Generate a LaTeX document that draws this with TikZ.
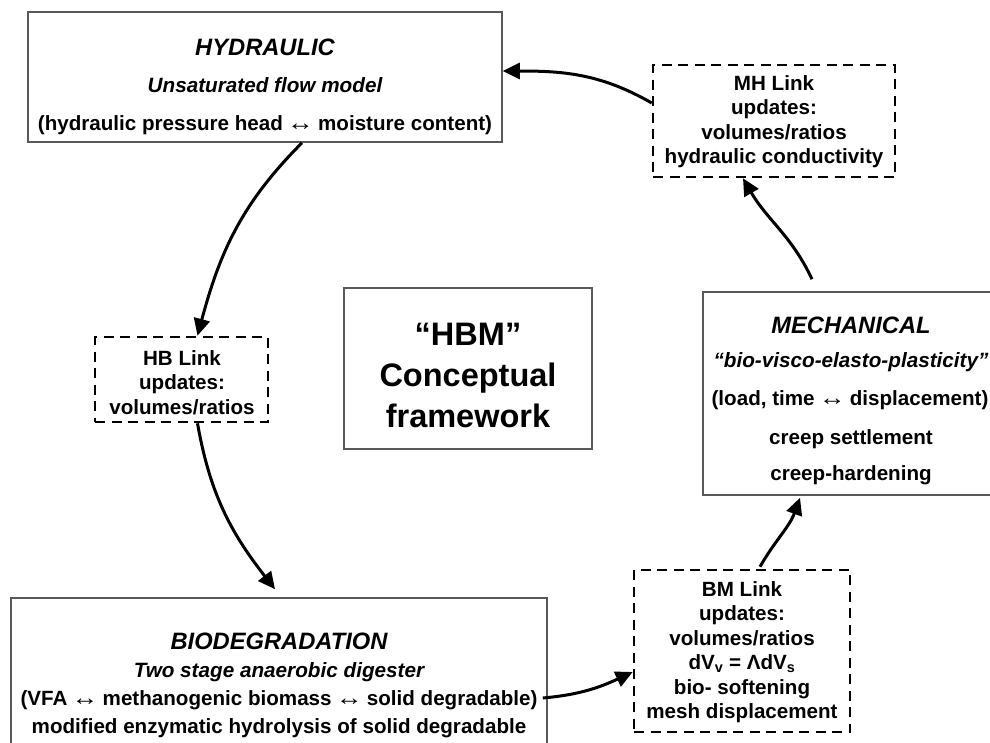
\documentclass[tikz,border=0pt]{standalone}
\usepackage{fontspec}
\usepackage{graphicx}
\setmainfont{Liberation Sans}
\newcommand{\lrarr}{\kern-1.5pt\scalebox{1.3}[1.1]{↔}\kern-1.5pt}
\usetikzlibrary{arrows.meta}
\begin{document}
\begin{tikzpicture}[x=1pt,y=-1pt,
  solidbox/.style={draw=black!65, line width=1.6pt, fill=white, inner sep=0pt},
  dashbox/.style={draw=black, line width=2.6pt, dash pattern=on 10pt off 6.5pt, fill=white, inner sep=0pt},
  body/.style={font=\fontsize{20.6}{24}\selectfont\bfseries, anchor=base, inner sep=0pt},
  ttl/.style={font=\fontsize{23.7}{26}\selectfont\bfseries\itshape, anchor=base, inner sep=0pt},
  sub/.style={font=\fontsize{20.7}{24}\selectfont\bfseries\itshape, anchor=base, inner sep=0pt},
  big/.style={font=\fontsize{32.5}{36}\selectfont\bfseries, anchor=base, inner sep=0pt},
  conn/.style={line width=3pt, -{Triangle[length=17pt,width=16pt]}},
]
\useasboundingbox (0,0) rectangle (990,742);
\fill[white] (0,0) rectangle (990,742);

% boxes
\node[solidbox, minimum width=474pt, minimum height=130pt] (hyd) at (265,77) {};
\node[dashbox, minimum width=242pt, minimum height=112pt] (mh) at (774,121) {};
\node[dashbox, minimum width=173pt, minimum height=85pt] (hb) at (181.5,379.5) {};
\node[solidbox, minimum width=248pt, minimum height=161pt] (cf) at (468,368.5) {};
\node[solidbox, minimum width=296pt, minimum height=203pt] (mech) at (851,393.5) {};
\node[solidbox, minimum width=536pt, minimum height=162pt] (bio) at (279,679) {};
\node[dashbox, minimum width=216pt, minimum height=162pt] (bm) at (742,651) {};

% hydraulic text
\node[ttl] (h1) at (265,55) {HYDRAULIC};
\node[sub] (h2) at (265,92) {Unsaturated flow model};
\node[body] (h3) at (265,130) {(hydraulic pressure head \lrarr{} moisture content)};

% MH link text
\node[body] (mh1) at (774,90) {MH Link};
\node[body] (mh2) at (774,114.5) {updates:};
\node[body] (mh3) at (774,139) {volumes/ratios};
\node[body] (mh4) at (774,163.5) {hydraulic conductivity};

% HB link text
\node[body] (hb1) at (182,365) {HB Link};
\node[body] (hb2) at (182,389.5) {updates:};
\node[body] (hb3) at (182,414) {volumes/ratios};

% centre text
\node[big] (c1) at (468,345) {“HBM”};
\node[big] (c2) at (468,386) {Conceptual};
\node[big] (c3) at (468,427) {framework};

% mechanical text
\node[ttl] (m1) at (851,333) {MECHANICAL};
\node[sub] (m2) at (851,367) {“bio-visco-elasto-plasticity”};
\node[body] (m3) at (850,405) {(load, time \lrarr{} displacement)};
\node[body] (m4) at (851,444) {creep settlement};
\node[body] (m5) at (851,480) {creep-hardening};

% biodegradation text
\node[ttl] (b1) at (279,649) {BIODEGRADATION};
\node[sub] (b2) at (279,677) {Two stage anaerobic digester};
\node[body] (b3) at (279,705) {(VFA \lrarr{} methanogenic biomass \lrarr{} solid degradable)};
\node[body] (b4) at (279,733) {modified enzymatic hydrolysis of solid degradable};

% BM link text
\node[body] (bm1) at (742,596) {BM Link};
\node[body] (bm2) at (742,620.5) {updates:};
\node[body] (bm3) at (742,645) {volumes/ratios};
\node[body] (bm4) at (742,669.5) {dV\textsubscript{v} = ΛdV\textsubscript{s}};
\node[body] (bm5) at (742,694) {bio- softening};
\node[body] (bm6) at (742,718.5) {mesh displacement};

% connectors
\draw[conn] ([yshift=18pt]mh.west) to[out=150,in=0] ([yshift=6pt]hyd.east);
\draw[conn] ([xshift=-39pt,yshift=12pt]mech.north) to[out=115,in=-60] ([xshift=-31pt]mh.south);
\draw[conn] ([xshift=37pt]hyd.south) to[out=225,in=75] ([xshift=16pt]hb.north);
\draw[conn] ([xshift=16pt]hb.south) to[out=-80,in=128] ([xshift=-4pt,yshift=8pt]bio.north);
\draw[conn] ([xshift=-5pt,yshift=-19pt]bio.east) to[out=5,in=205] ([yshift=-21pt]bm.west);
\draw[conn] ([xshift=18pt,yshift=2pt]bm.north) to[out=60,in=-110] ([xshift=-51pt,yshift=-2pt]mech.south);
\end{tikzpicture}
\end{document}
